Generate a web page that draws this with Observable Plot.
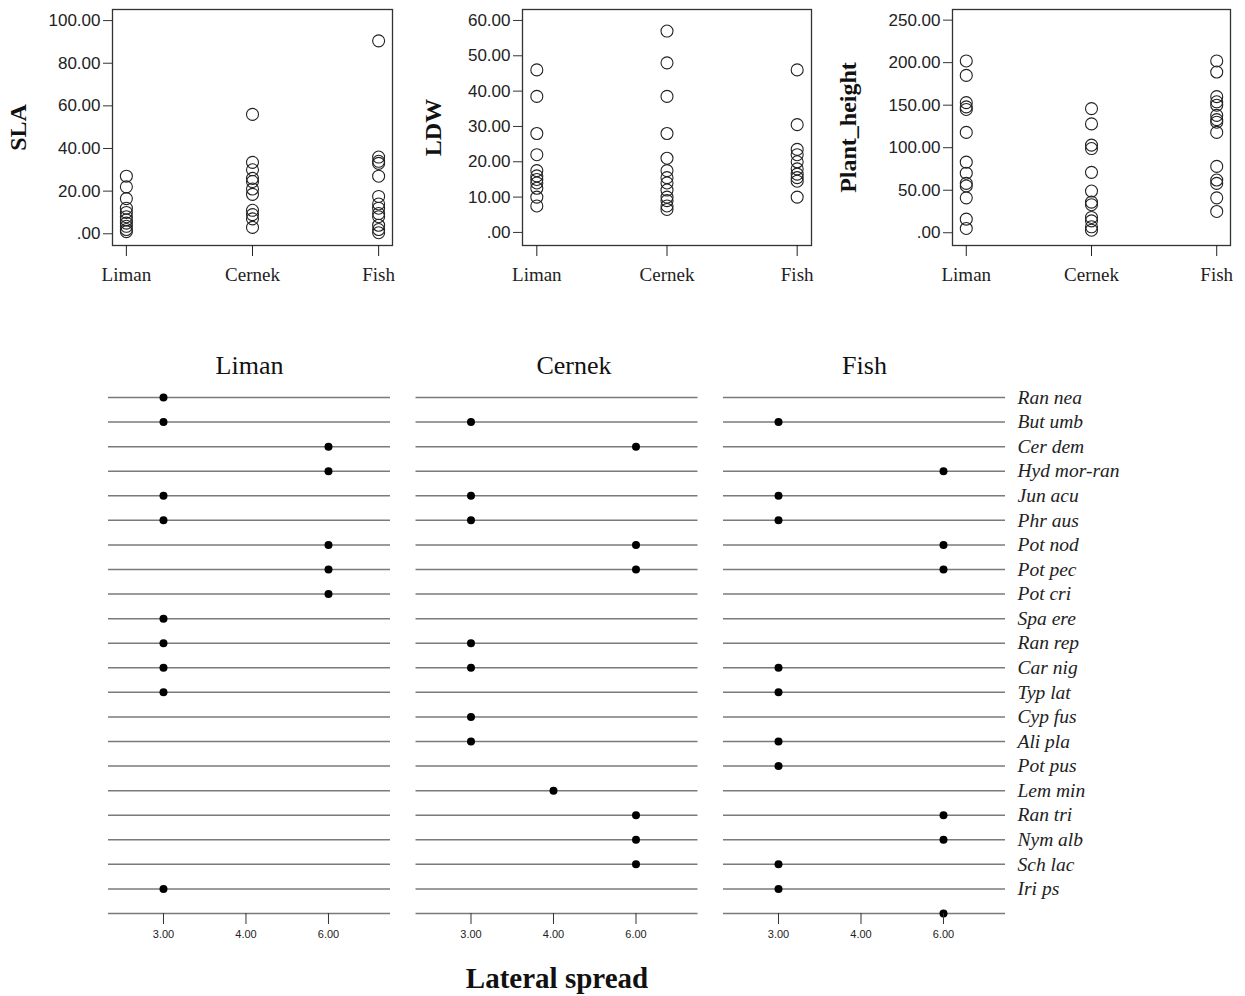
<!DOCTYPE html>
<html>
<head>
<meta charset="utf-8">
<script src="https://cdn.jsdelivr.net/npm/d3@7"></script>
<script src="https://cdn.jsdelivr.net/npm/@observablehq/plot@0.6"></script>
<style>
  html, body { margin: 0; padding: 0; background: #fff; }
  #root { position: relative; width: 1245px; height: 996px; overflow: hidden; background: #fff; }
  .panel { position: absolute; line-height: 0; }
  #xtitle { position: absolute; top: 962px; left: 357px; width: 400px; text-align: center;
    font-family: "Liberation Serif", "Times New Roman", serif; font-weight: bold; font-size: 29px; color: #111; }
</style>
</head>
<body>
<div id="root">
  <div class="panel" id="sla" style="left:0px;top:0px"></div>
  <div class="panel" id="ldw" style="left:415px;top:0px"></div>
  <div class="panel" id="ph" style="left:830px;top:0px"></div>
  <div class="panel" id="lat" style="left:0px;top:340px"></div>
  <div id="xtitle">Lateral spread</div>
</div>
<script>
const sites = ["Liman", "Cernek", "Fish"];

// SLA values per site
const slaLiman = [27, 22, 16.5, 12, 10, 8, 6.5, 5, 3.5, 2, 1];
const slaCernek = [56, 33.5, 30, 26, 24.5, 21, 18.5, 11, 9, 7, 3];
const slaFish = [90.5, 36, 34, 33, 27, 17.5, 14, 12, 9.5, 8, 4, 2, 0.5];
const slaTicks = [0, 20, 40, 60, 80, 100];

// LDW values per site
const ldwLiman = [46, 38.5, 28, 22, 17.5, 16, 15, 14, 12.5, 10, 7.5];
const ldwCernek = [57, 48, 38.5, 28, 21, 17.5, 15.5, 14, 12, 10, 9, 7.5, 6.5];
const ldwFish = [46, 30.5, 23.5, 22, 20, 18, 16.5, 15.5, 14.5, 10];
const ldwTicks = [0, 10, 20, 30, 40, 50, 60];

// Plant height values per site
const phLiman = [202, 185, 153, 148, 145, 118, 83, 70, 58, 55, 41, 16, 5];
const phCernek = [146, 128, 103, 99, 71, 49, 36, 33, 18, 14, 7, 3];
const phFish = [202, 189, 160, 154, 150, 138, 133, 130, 118, 78, 62, 58, 41, 25];
const phTicks = [0, 50, 100, 150, 200, 250];

// Lateral spread dot plot
const species = ["Ran nea", "But umb", "Cer dem", "Hyd mor-ran", "Jun acu", "Phr aus", "Pot nod", "Pot pec",
  "Pot cri", "Spa ere", "Ran rep", "Car nig", "Typ lat", "Cyp fus", "Ali pla", "Pot pus", "Lem min",
  "Ran tri", "Nym alb", "Sch lac", "Iri ps", ""];
const lateralLiman  = [3, 3, 6, 6, 3, 3, 6, 6, 6, 3, 3, 3, 3, null, null, null, null, null, null, null, 3, null];
const lateralCernek = [null, 3, 6, null, 3, 3, 6, 6, null, null, 3, 3, null, 3, 3, null, 4, 6, 6, 6, null, null];
const lateralFish   = [null, 3, null, 6, 3, 3, 6, 6, null, null, null, 3, 3, null, 3, 3, null, 6, 6, 3, 3, 6];
const lateralTicks = [3, 4, 6];

const serif = "'Liberation Serif', 'Times New Roman', serif";
const sans = "'Liberation Sans', Arial, sans-serif";

function longForm(arrs) {
  const out = [];
  arrs.forEach((arr, i) => arr.forEach(v => out.push({site: sites[i], value: v})));
  return out;
}
const fmt = d => d === 0 ? ".00" : d.toFixed(2);

function topChart(title, data, domain, ticks, ml, mr) {
  return Plot.plot({
    width: 415, height: 300,
    marginLeft: ml, marginRight: mr, marginTop: 9, marginBottom: 55,
    x: {type: "point", domain: sites, padding: 0.11, round: false},
    y: {domain: domain},
    style: {background: "#fff", overflow: "visible", color: "#222"},
    marks: [
      Plot.frame({stroke: "#333", strokeWidth: 1.3}),
      Plot.dot(data, {x: "site", y: "value", r: 6, stroke: "#222", strokeWidth: 1.1, fill: "none"}),
      Plot.axisY({ticks: ticks, tickFormat: fmt, tickSize: 9, tickPadding: 3, fontSize: 17,
        fontFamily: sans, label: null, stroke: "#333"}),
      Plot.axisX({tickSize: 11, tickPadding: 11, fontSize: 19, fontFamily: serif, label: null}),
      Plot.text([title], {frameAnchor: "left", dx: -(ml - 18), rotate: -90, text: d => d,
        textAnchor: "middle", lineAnchor: "middle",
        fontWeight: "bold", fontSize: 24, fontFamily: serif, fill: "#111"})
    ]
  });
}

document.getElementById("sla").append(
  topChart("SLA", longForm([slaLiman, slaCernek, slaFish]), [-5.5, 105.2], slaTicks, 112, 23));
document.getElementById("ldw").append(
  topChart("LDW", longForm([ldwLiman, ldwCernek, ldwFish]), [-3.7, 63.1], ldwTicks, 107, 19));
document.getElementById("ph").append(
  topChart("Plant_height", longForm([phLiman, phCernek, phFish]), [-15, 262.5], phTicks, 122, 15));

const lateral = [];
[lateralLiman, lateralCernek, lateralFish].forEach((arr, i) => {
  arr.forEach((v, j) => { if (v != null) lateral.push({site: sites[i], species: species[j], value: v}); });
});

const lat = Plot.plot({
  width: 1245, height: 613,
  marginLeft: 108, marginRight: 240, marginTop: 57, marginBottom: 40,
  fx: {domain: sites, paddingInner: 0.083, paddingOuter: 0, axis: null, round: false},
  x: {type: "point", domain: lateralTicks, padding: 0.709, align: 0.47, round: false},
  y: {type: "point", domain: species, padding: 0, round: false},
  style: {background: "#fff", overflow: "visible", color: "#222"},
  marks: [
    Plot.ruleY(species, {y: d => d, stroke: "#7a7a7a", strokeWidth: 1.5}),
    Plot.dot(lateral, {fx: "site", x: "value", y: "species", r: 4, fill: "#000"}),
    Plot.axisX({ticks: lateralTicks, tickFormat: d => d.toFixed(2), tickSize: 11, tickPadding: 6,
      fontSize: 11, fontFamily: sans, label: null, stroke: "#333"}),
    Plot.axisY({anchor: "right", tickSize: 0, tickPadding: 12, fontSize: 19.5, fontFamily: serif,
      fontStyle: "italic", label: null}),
    Plot.text(sites.filter(s => s !== "Cernek"), {fx: d => d, text: d => d, frameAnchor: "top", dy: -32,
      lineAnchor: "middle", fontSize: 26, fontFamily: serif, fill: "#111"}),
    Plot.text(["Cernek"], {fx: d => d, text: d => d, frameAnchor: "top", dy: -32, dx: 17,
      lineAnchor: "middle", fontSize: 26, fontFamily: serif, fill: "#111"})
  ]
});
document.getElementById("lat").append(lat);
</script>
</body>
</html>
